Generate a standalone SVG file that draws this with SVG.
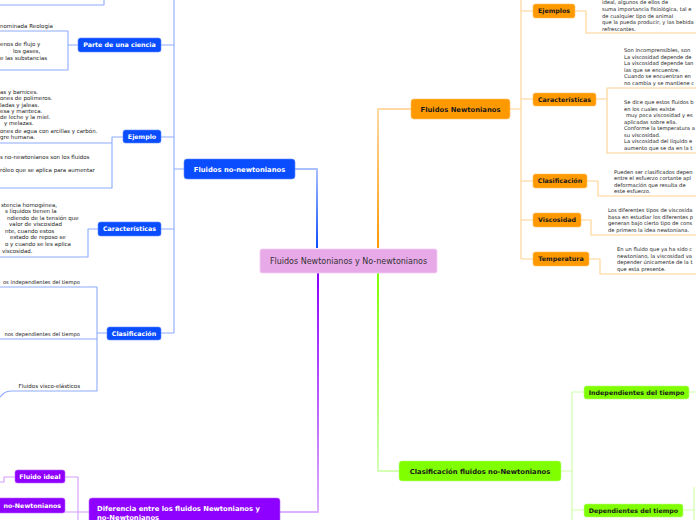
<svg xmlns="http://www.w3.org/2000/svg" width="696" height="520" viewBox="0 0 696 520">
<defs>
<linearGradient id="gBlue" gradientUnits="userSpaceOnUse" x1="0" y1="169" x2="0" y2="248"><stop offset="0" stop-color="#a9c0ff"/><stop offset="1" stop-color="#0a4dff"/></linearGradient>
<linearGradient id="gOrange" gradientUnits="userSpaceOnUse" x1="0" y1="248" x2="0" y2="109"><stop offset="0" stop-color="#ff9900"/><stop offset="1" stop-color="#ffdaa6"/></linearGradient>
<linearGradient id="gPurple" gradientUnits="userSpaceOnUse" x1="0" y1="273" x2="0" y2="512"><stop offset="0" stop-color="#8e00ff"/><stop offset="1" stop-color="#dcb0ff"/></linearGradient>
<linearGradient id="gGreen" gradientUnits="userSpaceOnUse" x1="0" y1="273" x2="0" y2="471"><stop offset="0" stop-color="#80ff00"/><stop offset="1" stop-color="#d4ffb4"/></linearGradient>
</defs>
<style>
.bg{fill:#ffffff}
.c{fill:none;stroke-linejoin:round}
.cb{stroke:#8eabff;stroke-width:1.1}
.co{stroke:#ffd28f;stroke-width:1.1}
.cp{stroke:#d39cff;stroke-width:1.1}
.cg{stroke:#cdffa8;stroke-width:1.1}
.main{stroke-width:2}
.blue{fill:#0a4dff;stroke:#5f8cff;stroke-width:0.6}
.orange{fill:#ff9900;stroke:#ffc060;stroke-width:0.6}
.green{fill:#80ff00;stroke:#b8ff80;stroke-width:0.6}
.purple{fill:#8e00ff;stroke:#bb66ff;stroke-width:0.6}
.center{fill:#e8a9e8;stroke:#f2cdf2;stroke-width:0.8}
.t1{font-family:"DejaVu Sans",Verdana,sans-serif;font-weight:bold;font-size:6.8px}
.t2{font-family:"DejaVu Sans",Verdana,sans-serif;font-weight:bold;font-size:6.3px}
.w{fill:#ffffff}
.d{fill:#1a1a1a}
.ct{font-family:"DejaVu Sans",Verdana,sans-serif;font-size:8px;fill:#333333}
.s{font-family:"DejaVu Sans",Verdana,sans-serif;font-size:5.5px;fill:#222222}
.r{font-family:"DejaVu Sans",Verdana,sans-serif;font-size:5.2px;fill:#222222}
</style>
<rect class="bg" x="0" y="0" width="696" height="520"/>

<g id="connectors">
  <path class="c main" stroke="url(#gBlue)" d="M295,169 H317 V248"/>
  <path class="c main" stroke="url(#gOrange)" d="M378,248 V109 H411"/>
  <path class="c main" stroke="url(#gPurple)" d="M318,273 V512 H280"/>
  <path class="c main" stroke="url(#gGreen)" d="M378,273 V471 H399"/>
  <path class="c cb" d="M184,169 H174 M174,0 V333 M174,45 H161 M174,137 H161 M174,229 H161 M174,333 H161"/>
  <path class="c cb" d="M0,5 H104 V0"/>
  <path class="c cb" d="M78,45 H68 M0,31 H68 V70 H0"/>
  <path class="c cb" d="M123,137 H112 V188 H0 M0,143 H112"/>
  <path class="c cb" d="M98,229 H88 V257 H0"/>
  <path class="c cb" d="M107,333 H97 M0,287 H97 V391 H12 Q6,391 3,394 L0,397 M0,339 H97"/>
  <path class="c co" d="M510,109 H521 M521,0 V259 M521,11 H533 M521,99 H533 M521,181 H533 M521,220 H533 M521,259 H533"/>
  <path class="c co" d="M575,11 H586 V33 H696"/>
  <path class="c co" d="M596,99 H607 M696,88 H607 V153 H696"/>
  <path class="c co" d="M587,181 H598 V196 H696"/>
  <path class="c co" d="M581,220 H591 V235 H696"/>
  <path class="c co" d="M589,259 H600 V274 H696"/>
  <path class="c cg" d="M561,471 H572 M572,392 V520 M572,392 H584 M572,510 H584"/>
  <path class="c cg" d="M689,392 H696 M683,510 H694 M694,487 V520"/>
  <path class="c cp" d="M89,512 H78 M78,477 V520 M78,477 H65 M78,512 H65"/>
  <path class="c cp" d="M15,477 H4 V482 H0"/>
</g>

<g id="center">
  <rect class="center" x="260" y="249" width="177" height="24" rx="2"/>
  <text class="ct" x="348.5" y="264" text-anchor="middle">Fluidos Newtonianos y No-newtonianos</text>
</g>

<g id="fluidos-no-newtonianos">
  <rect class="blue" x="184" y="159" width="111" height="20" rx="3"/>
  <text class="t1 w" x="239.5" y="171.5" text-anchor="middle">Fluidos no-newtonianos</text>
</g>
<g id="parte-de-una-ciencia">
  <rect class="blue" x="78" y="38" width="83" height="14" rx="2.5"/>
  <text class="t2 w" x="119.5" y="47.3" text-anchor="middle">Parte de una ciencia</text>
</g>
<g id="ejemplo">
  <rect class="blue" x="123" y="130" width="38" height="13" rx="2.5"/>
  <text class="t2 w" x="142" y="138.8" text-anchor="middle">Ejemplo</text>
</g>
<g id="caracteristicas-nn">
  <rect class="blue" x="98" y="222" width="63" height="14" rx="2.5"/>
  <text class="t2 w" x="129.5" y="231.3" text-anchor="middle">Características</text>
</g>
<g id="clasificacion-nn">
  <rect class="blue" x="107" y="327" width="54" height="13" rx="2.5"/>
  <text class="t2 w" x="134" y="335.8" text-anchor="middle">Clasificación</text>
</g>

<g id="texts-left">
  <text class="s" x="0" y="28">nominada Reología</text>
  <text class="s" x="0" y="46">enos de flujo y</text>
  <text class="s" x="13" y="53">los gases,</text>
  <text class="s" x="0" y="60">e las substancias</text>

  <text class="s" x="0" y="94">as y barnices.</text>
  <text class="s" x="0" y="100">ones de polímeros.</text>
  <text class="s" x="0" y="107">ladas y jaleas.</text>
  <text class="s" x="0" y="113">esa y manteca.</text>
  <text class="s" x="0" y="119">de leche y la miel.</text>
  <text class="s" x="4" y="125">y melazas.</text>
  <text class="s" x="0" y="133">ones de agua con arcillas y carbón.</text>
  <text class="s" x="0" y="139">gre humana.</text>

  <text class="s" x="0" y="159">s no-newtonianos son los fluidos</text>
  <text class="s" x="0" y="172">róleo que se aplica para aumentar</text>

  <text class="s" x="1" y="207">stencia homogénea,</text>
  <text class="s" x="5" y="213">s líquidos tienen la</text>
  <text class="s" x="7" y="220">ndiendo de la tensión que</text>
  <text class="s" x="9" y="226">valor de viscosidad</text>
  <text class="s" x="5" y="233">nte, cuando estos</text>
  <text class="s" x="10" y="239">estado de reposo se</text>
  <text class="s" x="5" y="246">o y cuando se les aplica</text>
  <text class="s" x="2" y="253">viscosidad.</text>

  <text class="r" x="80" y="284" text-anchor="end">os independientes del tiempo</text>
  <text class="r" x="80" y="336" text-anchor="end">nos dependientes del tiempo</text>
  <text class="s" x="80" y="388" text-anchor="end">Fluidos visco-elásticos</text>
</g>

<g id="fluidos-newtonianos">
  <rect class="orange" x="411" y="99" width="99" height="20" rx="3"/>
  <text class="t1 d" x="460.5" y="111.5" text-anchor="middle">Fluidos Newtonianos</text>
</g>
<g id="ejemplos">
  <rect class="orange" x="533" y="4" width="42" height="14" rx="2.5"/>
  <text class="t2 d" x="554" y="13.3" text-anchor="middle">Ejemplos</text>
</g>
<g id="caracteristicas-n">
  <rect class="orange" x="533" y="93" width="63" height="13" rx="2.5"/>
  <text class="t2 d" x="564.5" y="101.8" text-anchor="middle">Características</text>
</g>
<g id="clasificacion-n">
  <rect class="orange" x="533" y="174" width="54" height="14" rx="2.5"/>
  <text class="t2 d" x="560" y="183.3" text-anchor="middle">Clasificación</text>
</g>
<g id="viscosidad">
  <rect class="orange" x="533" y="213" width="48" height="14" rx="2.5"/>
  <text class="t2 d" x="557" y="222.3" text-anchor="middle">Viscosidad</text>
</g>
<g id="temperatura">
  <rect class="orange" x="533" y="252" width="56" height="14" rx="2.5"/>
  <text class="t2 d" x="561" y="261.3" text-anchor="middle">Temperatura</text>
</g>

<g id="texts-right">
  <text class="r" x="602" y="3.5">ideal, algunos de ellos de</text>
  <text class="r" x="602" y="11">suma importancia fisiológica, tal e</text>
  <text class="r" x="602" y="17.5">de cualquier tipo de animal</text>
  <text class="r" x="602" y="24">que la pueda producir, y las bebida</text>
  <text class="r" x="602" y="30.5">refrescantes.</text>

  <text class="r" x="624" y="52">Son incomprensibles, son</text>
  <text class="r" x="624" y="58.5">La viscosidad depende de</text>
  <text class="r" x="624" y="65">La viscosidad depende tan</text>
  <text class="r" x="624" y="72">las que se encuentre.</text>
  <text class="r" x="624" y="78">Cuando se encuentran en</text>
  <text class="r" x="624" y="84.5">no cambia y se mantiene c</text>

  <text class="r" x="624" y="104">Se dice que estos fluidos b</text>
  <text class="r" x="624" y="111">en los cuales existe</text>
  <text class="r" x="626" y="117">muy poca viscosidad y es</text>
  <text class="r" x="624" y="124">aplicadas sobre ella.</text>
  <text class="r" x="624" y="130">Conforme la temperatura a</text>
  <text class="r" x="624" y="137">su viscosidad.</text>
  <text class="r" x="624" y="143">La viscosidad del líquido e</text>
  <text class="r" x="624" y="150">aumento que se da en la t</text>

  <text class="r" x="614" y="174">Pueden ser clasificados depen</text>
  <text class="r" x="614" y="180">entre el esfuerzo cortante apl</text>
  <text class="r" x="614" y="186.5">deformación que resulta de</text>
  <text class="r" x="614" y="193">este esfuerzo.</text>

  <text class="r" x="608" y="212">Los diferentes tipos de viscosida</text>
  <text class="r" x="608" y="218.5">basa en estudiar los diferentes p</text>
  <text class="r" x="608" y="225">generan bajo cierto tipo de cons</text>
  <text class="r" x="608" y="231.5">de primero la idea newtoniana.</text>

  <text class="r" x="617" y="251">En un fluido que ya ha sido c</text>
  <text class="r" x="617" y="257.5">newtoniano, la viscosidad va</text>
  <text class="r" x="617" y="264">depender únicamente de la t</text>
  <text class="r" x="617" y="270.5">que esta presente.</text>
</g>

<g id="clasificacion-fluidos-no-newtonianos">
  <rect class="green" x="399" y="461" width="162" height="20" rx="3"/>
  <text class="t1 d" x="480" y="473.5" text-anchor="middle">Clasificación fluidos no-Newtonianos</text>
</g>
<g id="independientes">
  <rect class="green" x="584" y="386" width="105" height="13" rx="2.5"/>
  <text class="t2 d" x="636.5" y="394.8" text-anchor="middle">Independientes del tiempo</text>
</g>
<g id="dependientes">
  <rect class="green" x="584" y="504" width="99" height="13" rx="2.5"/>
  <text class="t2 d" x="633.5" y="512.8" text-anchor="middle">Dependientes del tiempo</text>
</g>

<g id="diferencia">
  <rect class="purple" x="89" y="498" width="191" height="30" rx="3"/>
  <text class="t1 w" x="97" y="511">Diferencia entre los fluidos Newtonianos y</text>
  <text class="t1 w" x="97" y="519.5">no-Newtonianos</text>
</g>
<g id="fluido-ideal">
  <rect class="purple" x="15" y="470" width="50" height="13" rx="2.5"/>
  <text class="t2 w" x="40" y="478.8" text-anchor="middle">Fluido ideal</text>
</g>
<g id="no-newtonianos">
  <rect class="purple" x="-5" y="498" width="70" height="15" rx="2.5"/>
  <text class="t2 w" x="61" y="507.8" text-anchor="end">no-Newtonianos</text>
</g>
</svg>
